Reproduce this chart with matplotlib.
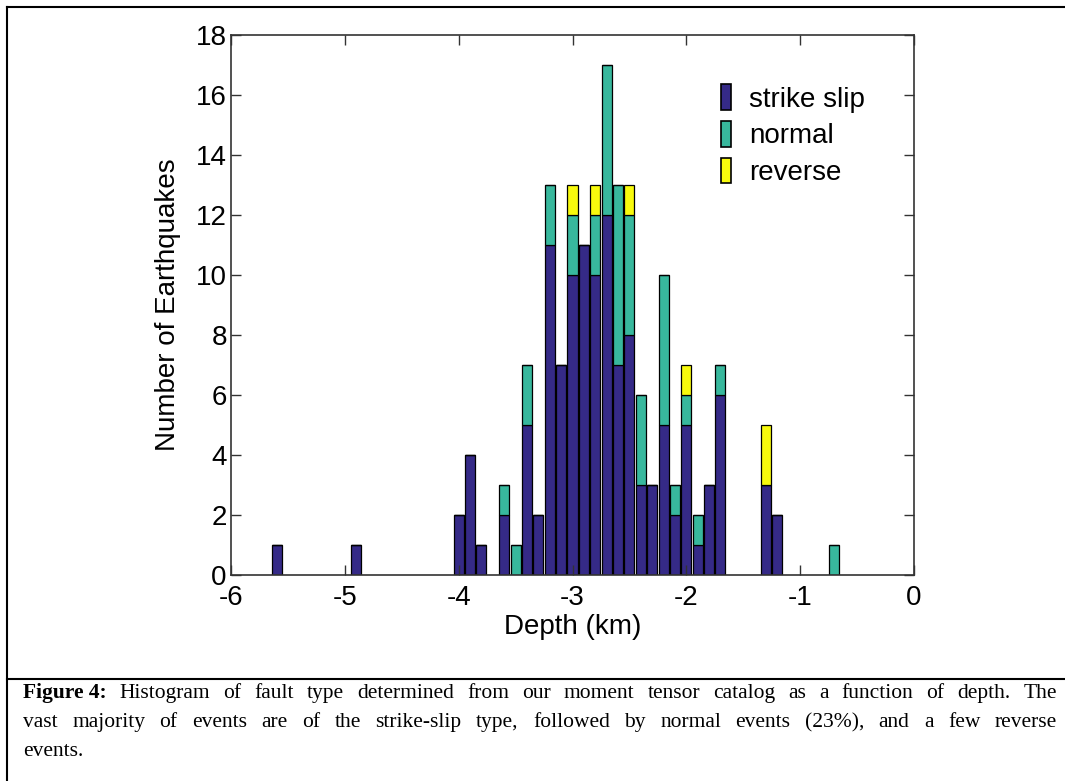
import numpy as np
import matplotlib
matplotlib.use('Agg')
import matplotlib.pyplot as plt
from matplotlib.patches import Rectangle
from matplotlib.lines import Line2D

# depth bin centres (km) and counts per fault type
depth = [-5.6, -4.9, -4.0, -3.9, -3.8, -3.6, -3.5, -3.4, -3.3, -3.2, -3.1, -3.0,
         -2.9, -2.8, -2.7, -2.6, -2.5, -2.4, -2.3, -2.2, -2.1, -2.0, -1.9, -1.8,
         -1.7, -1.3, -1.2, -0.7]
strike_slip = [1, 1, 2, 4, 1, 2, 0, 5, 2, 11, 7, 10,
               11, 10, 12, 7, 8, 3, 3, 5, 2, 5, 1, 3,
               6, 3, 2, 0]
normal = [0, 0, 0, 0, 0, 1, 1, 2, 0, 2, 0, 2,
          0, 2, 5, 6, 4, 3, 0, 5, 1, 1, 1, 0,
          1, 0, 0, 1]
reverse = [0, 0, 0, 0, 0, 0, 0, 0, 0, 0, 0, 1,
           0, 1, 0, 0, 1, 0, 0, 0, 0, 1, 0, 0,
           0, 2, 0, 0]

labels = ['strike slip', 'normal', 'reverse']
colors = ['#352A87', '#38B89D', '#F8FA0D']

xticks = [-6, -5, -4, -3, -2, -1, 0]
yticks = [0, 2, 4, 6, 8, 10, 12, 14, 16, 18]

caption_lines = [
    [('Figure 4:', 'bold'), ('Histogram', 'normal'), ('of', 'normal'), ('fault', 'normal'),
     ('type', 'normal'), ('determined', 'normal'), ('from', 'normal'), ('our', 'normal'),
     ('moment', 'normal'), ('tensor', 'normal'), ('catalog', 'normal'), ('as', 'normal'),
     ('a', 'normal'), ('function', 'normal'), ('of', 'normal'), ('depth.', 'normal'),
     ('The', 'normal')],
    [(w, 'normal') for w in 'vast majority of events are of the strike-slip type, followed by normal events (23%), and a few reverse'.split()],
    [('events.', 'normal')],
]

plt.rcParams['font.family'] = ['Liberation Sans', 'DejaVu Sans']

W, H = 1065, 781
fig = plt.figure(figsize=(W / 100, H / 100), dpi=100)
ax = fig.add_axes([231 / W, 1 - 575 / H, (914 - 231) / W, (575 - 35) / H])

s = np.array(strike_slip)
n = np.array(normal)
r = np.array(reverse)
bw = 0.088
ax.bar(depth, s, width=bw, color=colors[0], edgecolor='black', linewidth=0.9)
ax.bar(depth, n, width=bw, bottom=s, color=colors[1], edgecolor='black', linewidth=0.9)
ax.bar(depth, r, width=bw, bottom=s + n, color=colors[2], edgecolor='black', linewidth=0.9)

fs = 20
ax.set_xlim(-6, 0)
ax.set_ylim(0, 18)
ax.set_xticks(xticks)
ax.set_yticks(yticks)
ax.set_xticklabels([str(t) for t in xticks])
ax.set_yticklabels([str(t) for t in yticks])
ax.tick_params(direction='in', length=7, width=1, colors='#333333', labelcolor='black',
               labelsize=fs, top=True, right=True)
ax.tick_params(axis='x', pad=7)
ax.tick_params(axis='y', pad=3)
for sp in ax.spines.values():
    sp.set_color('#333333')
    sp.set_linewidth(1.2)

ax.set_xlabel('Depth (km)', fontsize=fs, labelpad=2)
ax.set_ylabel('Number of Earthquakes', fontsize=fs, labelpad=11)

handles = [Rectangle((0, 0), 1, 1, facecolor=c, edgecolor='black', linewidth=1.2) for c in colors]
ax.legend(handles, labels, loc='upper left', bbox_to_anchor=(0.717, 0.909), frameon=False,
          fontsize=fs, handlelength=0.36, handleheight=1.05, handletextpad=0.65,
          labelspacing=0.3, borderpad=0, borderaxespad=0)

# frame of the figure box and the caption separator
lw = 1.5
fig.add_artist(Line2D([7 / W, 7 / W], [0, 1 - 7 / H], transform=fig.transFigure, color='black', lw=lw))
fig.add_artist(Line2D([7 / W, 1], [1 - 7 / H, 1 - 7 / H], transform=fig.transFigure, color='black', lw=lw))
fig.add_artist(Line2D([7 / W, 1], [1 - 679 / H, 1 - 679 / H], transform=fig.transFigure, color='black', lw=lw))

# justified caption
fig.canvas.draw()
renderer = fig.canvas.get_renderer()
x0, x1 = 23, 1057
baselines = [698, 727, 756]
for li, words in enumerate(caption_lines):
    texts = []
    widths = []
    for w, wt in words:
        t = fig.text(0, 0, w, fontsize=15.5, fontweight=wt, family=['Liberation Serif', 'DejaVu Serif'],
                     va='baseline', ha='left')
        bb = t.get_window_extent(renderer)
        texts.append(t)
        widths.append(bb.width)
    if li < len(caption_lines) - 1 and len(words) > 1:
        gap = (x1 - x0 - sum(widths)) / (len(words) - 1)
    else:
        gap = 5
    x = x0
    for t, wd in zip(texts, widths):
        t.set_position((x / W, 1 - baselines[li] / H))
        x += wd + gap

fig.savefig('out.png', dpi=100)
